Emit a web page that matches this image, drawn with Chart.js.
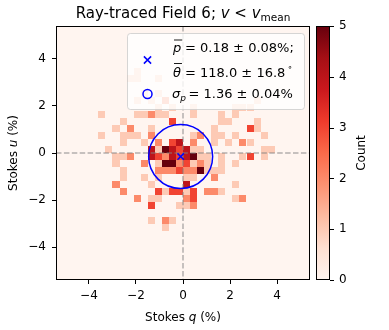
<!DOCTYPE html>
<html><head><meta charset="utf-8">
<script src="https://cdn.jsdelivr.net/npm/chart.js@4.4.1/dist/chart.umd.min.js"></script>
<style>html,body{margin:0;padding:0;background:#fff}#wrap{width:389px;height:330px}</style>
</head><body><div id="wrap"><canvas id="c" width="389" height="330"></canvas></div>
<script>
// ---- data ----
const tickValues = [-4, -2, 0, 2, 4];
const colorbarTicks = [0, 1, 2, 3, 4, 5];
const axisRange = [-5.4, 5.4];
const binWidth = 0.3;
const countMax = 5;
// 2-D histogram cells: bin centre (q, u) in % and count
const cellQ = [
 -1.95,-2.25,-1.95,-1.05,-1.65,-1.05,-1.95,-1.35,-0.75,-1.05,-0.45,0.45,2.25,2.55,3.15,2.85,
 -3.45,-1.95,-1.65,-1.35,-1.05,-0.75,0.45,1.65,2.25,
 -2.55,-0.45,1.65,1.95,3.15,
 -2.85,-2.25,-1.35,1.35,2.85,3.15,
 -3.45,-2.55,-2.25,-1.95,-1.35,0.45,0.75,1.35,1.65,2.25,3.45,
 -2.55,-1.65,-1.05,-0.45,-0.15,0.45,1.35,1.95,2.55,2.85,
 -3.15,-1.35,-1.05,-0.75,-0.45,-0.15,0.15,0.45,0.75,3.45,3.75,
 -2.85,-2.55,-2.25,-1.35,-1.05,-0.75,-0.45,-0.15,0.15,0.45,0.75,1.05,1.65,2.55,2.85,3.45,
 -2.85,-1.65,-1.05,-0.75,-0.45,-0.15,0.15,0.45,0.75,1.05,1.65,2.25,
 -2.55,-1.05,-0.75,-0.45,-0.15,0.15,0.45,0.75,1.05,1.35,1.65,
 -2.55,-1.65,-1.05,0.15,0.45,1.35,
 -2.85,-1.35,0.15,2.25,
 -2.55,-1.05,-0.75,-0.45,-0.15,0.15,0.45,1.05,1.35,1.65,
 -1.95,-1.35,-1.05,0.15,0.45,2.25,2.55,
 -1.35,-0.15,0.15,0.45,
 -1.35,-0.75,-0.45,
 -0.75
];
const cellU = [
 3.45,3.15,3.15,3.15,2.55,2.55,2.25,2.25,2.25,1.95,1.95,1.95,1.95,1.95,2.25,1.95,
 1.65,1.65,1.65,1.65,1.65,1.65,1.65,1.65,1.65,
 1.35,1.35,1.35,1.35,1.35,
 1.05,1.05,1.05,1.05,1.05,1.05,
 0.75,0.75,0.75,0.75,0.75,0.75,0.75,0.75,0.75,0.75,0.75,
 0.45,0.45,0.45,0.45,0.45,0.45,0.45,0.45,0.45,0.45,
 0.15,0.15,0.15,0.15,0.15,0.15,0.15,0.15,0.15,0.15,0.15,
 -0.15,-0.15,-0.15,-0.15,-0.15,-0.15,-0.15,-0.15,-0.15,-0.15,-0.15,-0.15,-0.15,-0.15,-0.15,-0.15,
 -0.45,-0.45,-0.45,-0.45,-0.45,-0.45,-0.45,-0.45,-0.45,-0.45,-0.45,-0.45,
 -0.75,-0.75,-0.75,-0.75,-0.75,-0.75,-0.75,-0.75,-0.75,-0.75,-0.75,
 -1.05,-1.05,-1.05,-1.05,-1.05,-1.05,
 -1.35,-1.35,-1.35,-1.35,
 -1.65,-1.65,-1.65,-1.65,-1.65,-1.65,-1.65,-1.65,-1.65,-1.65,
 -1.95,-1.95,-1.95,-1.95,-1.95,-1.95,-1.95,
 -2.25,-2.25,-2.25,-2.25,
 -2.85,-2.85,-2.85,
 -3.15
];
const cellCount = [
 1,1,1,1,1,1,1,1,2,1,1,1,1,1,1,1,
 1,1,1,2,1,1,1,1,1,
 1,3,1,1,1,
 1,2,1,1,3,1,
 1,1,1,1,2,1,2,1,1,1,1,
 1,1,2,3,4,2,1,1,2,1,
 1,4,1,5,4,3,4,1,1,1,1,
 1,1,2,4,3,2,4,3,4,5,1,1,1,1,3,1,
 1,2,1,5,5,2,3,1,2,1,1,1,
 1,2,2,2,3,2,2,5,1,1,1,
 1,1,1,1,1,2,
 2,1,4,1,
 2,3,1,3,3,1,3,2,2,1,
 2,1,1,2,3,1,2,
 3,1,1,2,
 1,2,1,
 1
];
const meanQ = [-0.10];
const meanU = [-0.15];
const sigmaP = 1.36;
const titleParts = ['Ray-traced Field 6; ', 'v', ' < ', 'v', 'mean'];
const legendTexts = ['= 0.18 \u00b1 0.08%;', '= 118.0 \u00b1 16.8', '= 1.36 \u00b1 0.04%'];

// ---- colour map (matplotlib Reds) ----
const REDS = ['#fff5f0','#fee0d2','#fcbba1','#fc9272','#fb6a4a','#ef3b2c','#cb181d','#a50f15','#67000d'];
function hex2rgb(h){return [parseInt(h.slice(1,3),16),parseInt(h.slice(3,5),16),parseInt(h.slice(5,7),16)];}
function reds(t){
  t=Math.max(0,Math.min(1,t));
  const s=t*(REDS.length-1);
  const k=Math.min(REDS.length-2,Math.floor(s));
  const f=s-k, a=hex2rgb(REDS[k]), b=hex2rgb(REDS[k+1]);
  return 'rgb('+a.map((v,i)=>Math.round(v+(b[i]-v)*f)).join(',')+')';
}
const F = "'DejaVu Sans'";
function fmt(v){return v<0?'\u2212'+Math.abs(v):String(v);}
function drawSegs(ctx, segs, cx, base){
  let w=0;
  segs.forEach(s=>{ctx.font=s.font; s.w=ctx.measureText(s.t).width; w+=s.w;});
  let x=cx-w/2;
  segs.forEach(s=>{ctx.font=s.font; ctx.fillText(s.t,x,base+(s.dy||0)); x+=s.w;});
}

const heat = {
  id:'heat',
  beforeDatasetsDraw(chart){
    const {ctx, chartArea:a, scales:{x,y}} = chart;
    ctx.save();
    ctx.beginPath(); ctx.rect(a.left,a.top,a.right-a.left,a.bottom-a.top); ctx.clip();
    ctx.fillStyle=reds(0); ctx.fillRect(a.left,a.top,a.right-a.left,a.bottom-a.top);
    for(let k=0;k<cellQ.length;k++){
      const x0=Math.round(x.getPixelForValue(cellQ[k]-binWidth/2));
      const x1=Math.round(x.getPixelForValue(cellQ[k]+binWidth/2));
      const y0=Math.round(y.getPixelForValue(cellU[k]+binWidth/2));
      const y1=Math.round(y.getPixelForValue(cellU[k]-binWidth/2));
      ctx.fillStyle=reds(cellCount[k]/countMax);
      ctx.fillRect(x0,y0,x1-x0,y1-y0);
    }
    // dashed zero lines
    ctx.strokeStyle='rgba(128,128,128,0.6)'; ctx.lineWidth=1.5; ctx.setLineDash([5.5,2.4]);
    const xz=x.getPixelForValue(0), yz=y.getPixelForValue(0);
    ctx.beginPath(); ctx.moveTo(a.left,yz); ctx.lineTo(a.right,yz); ctx.stroke();
    ctx.beginPath(); ctx.moveTo(xz,a.top); ctx.lineTo(xz,a.bottom); ctx.stroke();
    ctx.restore();
  },
  afterDatasetsDraw(chart){
    const {ctx, scales:{x,y}} = chart;
    ctx.save();
    const cx=x.getPixelForValue(meanQ[0]), cy=y.getPixelForValue(meanU[0]);
    const r=x.getPixelForValue(meanQ[0]+sigmaP)-cx;
    ctx.strokeStyle='#0000ff'; ctx.lineWidth=1.5;
    ctx.beginPath(); ctx.arc(cx,cy,r,0,Math.PI*2); ctx.stroke();
    ctx.restore();
  },
  afterDraw(chart){
    const {ctx, chartArea:a} = chart;
    ctx.save();
    ctx.fillStyle='#000'; ctx.strokeStyle='#000';
    // frame
    ctx.lineWidth=1;
    ctx.strokeRect(Math.round(a.left)+0.5,Math.round(a.top)+0.5,Math.round(a.right-a.left)-1,Math.round(a.bottom-a.top)-1);
    // title
    ctx.textBaseline='alphabetic'; ctx.textAlign='left';
    drawSegs(ctx,[
      {t:titleParts[0],font:'15px '+F},
      {t:titleParts[1],font:'italic 15px '+F},
      {t:titleParts[2],font:'15px '+F},
      {t:titleParts[3],font:'italic 15px '+F},
      {t:titleParts[4],font:'10.5px '+F,dy:3}
    ],(a.left+a.right)/2,18);
    // axis labels
    drawSegs(ctx,[{t:'Stokes ',font:'12px '+F},{t:'q',font:'italic 12px '+F},{t:' (%)',font:'12px '+F}],(a.left+a.right)/2,321);
    ctx.save(); ctx.translate(17,(a.top+a.bottom)/2); ctx.rotate(-Math.PI/2);
    drawSegs(ctx,[{t:'Stokes ',font:'12px '+F},{t:'u',font:'italic 12px '+F},{t:' (%)',font:'12px '+F}],0,0);
    ctx.restore();
    // colorbar
    const cbL=316, cbR=330, cbT=a.top, cbB=a.bottom;
    const g=ctx.createLinearGradient(0,cbB,0,cbT);
    REDS.forEach((c,i)=>g.addColorStop(i/(REDS.length-1),c));
    ctx.fillStyle=g; ctx.fillRect(cbL,cbT,cbR-cbL,cbB-cbT);
    ctx.strokeStyle='#000'; ctx.lineWidth=1;
    ctx.strokeRect(cbL+0.5,cbT+0.5,cbR-cbL-1,cbB-cbT-1);
    ctx.fillStyle='#000'; ctx.font='12px '+F; ctx.textBaseline='middle'; ctx.textAlign='left';
    colorbarTicks.forEach(v=>{
      const yy=cbB-(v/countMax)*(cbB-cbT);
      ctx.beginPath(); ctx.moveTo(cbR,Math.round(yy)+0.5); ctx.lineTo(cbR+4,Math.round(yy)+0.5); ctx.stroke();
      ctx.fillText(String(v),cbR+9,yy);
    });
    ctx.save(); ctx.translate(365,(cbT+cbB)/2); ctx.rotate(-Math.PI/2);
    ctx.textAlign='center'; ctx.textBaseline='alphabetic'; ctx.font='12px '+F; ctx.fillText('Count',0,0);
    ctx.restore();
    // legend
    const lx=127.5, ly=33.5, lw=177, lh=76;
    ctx.beginPath(); ctx.roundRect(lx,ly,lw,lh,3);
    ctx.fillStyle='rgba(255,255,255,0.8)'; ctx.fill();
    ctx.strokeStyle='rgba(204,204,204,0.8)'; ctx.lineWidth=1; ctx.stroke();
    // markers
    ctx.strokeStyle='#0000ff'; ctx.lineWidth=1.5;
    const mx=147.5, my=60, d=3.6;
    ctx.beginPath(); ctx.moveTo(mx-d,my-d); ctx.lineTo(mx+d,my+d); ctx.moveTo(mx-d,my+d); ctx.lineTo(mx+d,my-d); ctx.stroke();
    ctx.beginPath(); ctx.arc(147.5,94,4.5,0,Math.PI*2); ctx.stroke();
    // texts
    ctx.fillStyle='#000'; ctx.strokeStyle='#000'; ctx.textAlign='left'; ctx.textBaseline='alphabetic';
    const LF='13px '+F, LI='italic 13px '+F;
    ctx.font=LI; ctx.fillText('p',173,51.5);
    let pw=ctx.measureText('p').width;
    ctx.lineWidth=0.9; ctx.beginPath(); ctx.moveTo(174,40); ctx.lineTo(174+pw,40); ctx.stroke();
    ctx.font=LF; ctx.fillText(legendTexts[0],185,51.5);
    ctx.font=LI; ctx.fillText('\u03b8',173,76.5);
    pw=ctx.measureText('\u03b8').width;
    ctx.beginPath(); ctx.moveTo(174,63.5); ctx.lineTo(174+pw,63.5); ctx.stroke();
    ctx.font=LF; ctx.fillText(legendTexts[1],185,76.5);
    const w2=ctx.measureText(legendTexts[1]).width;
    ctx.font='9px '+F; ctx.fillText('\u2218',185+w2+2,70);
    ctx.font=LI; ctx.fillText('\u03c3',172,98);
    const sw=ctx.measureText('\u03c3').width;
    ctx.font='italic 9px '+F; ctx.fillText('p',172+sw,101);
    const spw=ctx.measureText('p').width;
    ctx.font=LF; ctx.fillText(legendTexts[2],Math.max(187,172+sw+spw+2.5),98);
    ctx.restore();
  }
};

const tickCfg = (axis) => ({
  type:'linear', min:axisRange[0], max:axisRange[1],
  afterBuildTicks(s){ s.ticks = tickValues.map(v=>({value:v})); },
  afterFit(s){ if(axis==='x') s.height=50; else s.width=56; },
  grid:{display:true, drawOnChartArea:false, drawTicks:true, tickLength:4, tickColor:'#000', tickWidth:1},
  border:{display:false},
  ticks:{color:'#000', font:{family:'DejaVu Sans', size:12}, padding: axis==='x'?5:6, callback:(v)=>fmt(v), maxRotation:0, autoSkip:false}
});

new Chart(document.getElementById('c'), {
  type:'scatter',
  data:{datasets:[{
    data: meanQ.map((q,i)=>({x:q,y:meanU[i]})),
    pointStyle:'crossRot', pointRadius:4.5, borderColor:'#0000ff', backgroundColor:'#0000ff', borderWidth:1.5
  }]},
  options:{
    responsive:false, animation:false, devicePixelRatio:1,
    layout:{padding:{left:0,right:79,top:26,bottom:0}},
    plugins:{legend:{display:false}, tooltip:{enabled:false}, title:{display:false}},
    scales:{x:tickCfg('x'), y:tickCfg('y')}
  },
  plugins:[heat]
});
</script></body></html>
